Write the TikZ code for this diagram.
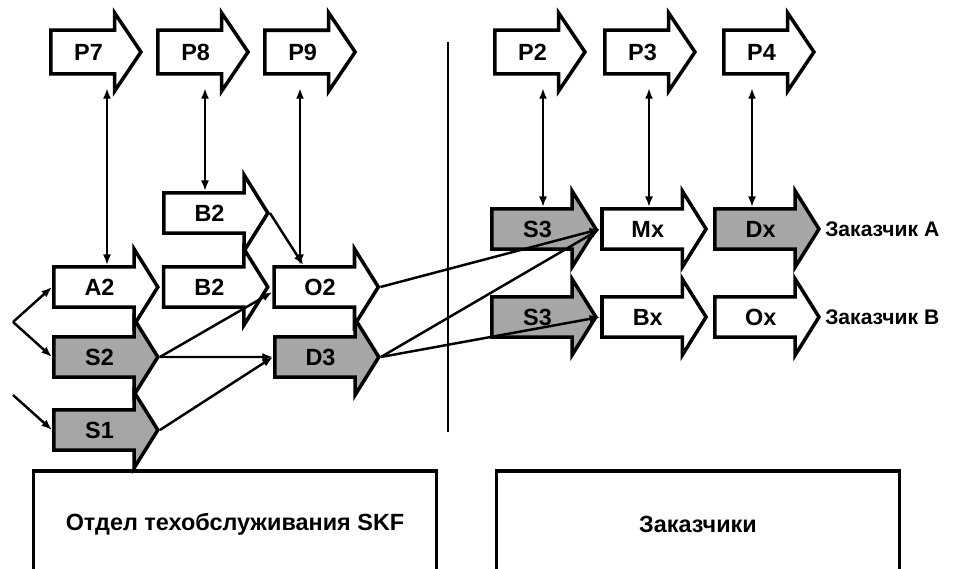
\documentclass[tikz,border=0pt]{standalone}
\usepackage{fontspec}
\setmainfont{Liberation Sans}
\usetikzlibrary{shapes.arrows, arrows.meta, positioning}
\tikzset{
    blk/.style={single arrow, draw, line width=3pt, fill=white, align=center,
        font=\fontsize{20}{24}\selectfont\bfseries, text width=2.64cm, inner xsep=0pt,
        inner ysep=0.3cm, text height=0.5cm, text depth=0cm,
        single arrow head extend=0.54cm, single arrow tip angle=116, anchor=west},
    proc/.style={blk, text width=2.16cm, inner ysep=0.35cm,
        single arrow head extend=0.52cm, single arrow tip angle=112},
    grayblk/.style={blk, fill=black!35},
    deptbox/.style={draw, line width=3pt, minimum width=12.1cm, minimum height=3.2cm,
        anchor=north, font=\fontsize{20}{24}\selectfont\bfseries},
    custlabel/.style={anchor=west, inner sep=0pt, font=\fontsize{18}{22}\selectfont\bfseries},
    conn/.style={-{Latex[length=3.2mm,width=2.4mm]}, line width=2.1pt},
    dconn/.style={{Latex[length=3.2mm,width=2.4mm]}-{Latex[length=3.2mm,width=2.4mm]}, line width=2.1pt}
}

\begin{document}
\begin{tikzpicture}[x=0.03cm, y=-0.03cm]
    \useasboundingbox (0,0) rectangle (956,569);

    % processes on top
    \node (P7) [proc] at (49,52) {P7};
    \node (P8) [proc, right=0.39cm of P7.tip] {P8};
    \node (P9) [proc, right=0.39cm of P8.tip] {P9};
    \node (P2) [proc] at (493,52) {P2};
    \node (P3) [proc] at (603,52) {P3};
    \node (P4) [proc] at (722,52) {P4};

    % service department side
    \node (B2t) [blk] at (162,213) {B2};
    \node (A2) [blk] at (52,287) {A2};
    \node (B2m) [blk, right=0.06cm of A2.tip] {B2};
    \node (O2) [blk, right=0.08cm of B2m.tip] {O2};
    \node (S2) [grayblk] at (52,357) {S2};
    \node (D3) [grayblk] at (273,357) {D3};
    \node (S1) [grayblk] at (52,430) {S1};

    % customer side
    \node (S3a) [grayblk] at (490,229) {S3};
    \node (Mx) [blk, right=0.07cm of S3a.tip] {Mx};
    \node (Dx) [grayblk, right=0.15cm of Mx.tip] {Dx};
    \node (S3b) [grayblk] at (490,317) {S3};
    \node (Bx) [blk, right=0.07cm of S3b.tip] {Bx};
    \node (Ox) [blk, right=0.15cm of Bx.tip] {Ox};
    \node (cA) [custlabel, right=0.12cm of Dx.tip] {Заказчик А};
    \node (cB) [custlabel, right=0.12cm of Ox.tip] {Заказчик В};

    % bottom boxes
    \node (dept) [deptbox] at (235,469) {Отдел техобслуживания SKF};
    \node (cust) [deptbox] at (698,469) {Заказчики};

    % divider
    \draw [line width=2.1pt] (448,42) -- (448,432);

    % links to processes
    \coordinate (t7) at (107,88);
    \coordinate (t8) at (205,88);
    \coordinate (t9) at (300,88);
    \coordinate (t2) at (543,88);
    \coordinate (t3) at (649,88);
    \coordinate (t4) at (752,88);
    \draw [dconn] (t7) -- (t7 |- A2.north);
    \draw [dconn] (t8) -- (t8 |- B2t.north);
    \draw [dconn] (t9) -- (t9 |- O2.north);
    \draw [dconn] (t2) -- (t2 |- S3a.north);
    \draw [dconn] (t3) -- (t3 |- Mx.north);
    \draw [dconn] (t4) -- (t4 |- Dx.north);

    % inputs
    \coordinate (in0) at (13,322);
    \coordinate (in1) at (13,395);
    \draw [conn] (in0) -- (A2.west);
    \draw [conn] (in0) -- (S2.west);
    \draw [conn] (in1) -- (S1.west);

    % flows
    \draw [conn] (B2t.tip) -- ([xshift=-0.5cm]O2.north);
    \draw [conn] (S2.tip) -- ([yshift=-0.15cm]O2.west);
    \draw [conn] (S2.tip) -- (D3.west);
    \draw [conn] (S1.tip) -- (D3.west);
    \draw [conn] (O2.tip) -- (Mx.west);
    \draw [conn] (D3.tip) -- (Mx.west);
    \draw [conn] (D3.tip) -- (Bx.west);
\end{tikzpicture}
\end{document}
